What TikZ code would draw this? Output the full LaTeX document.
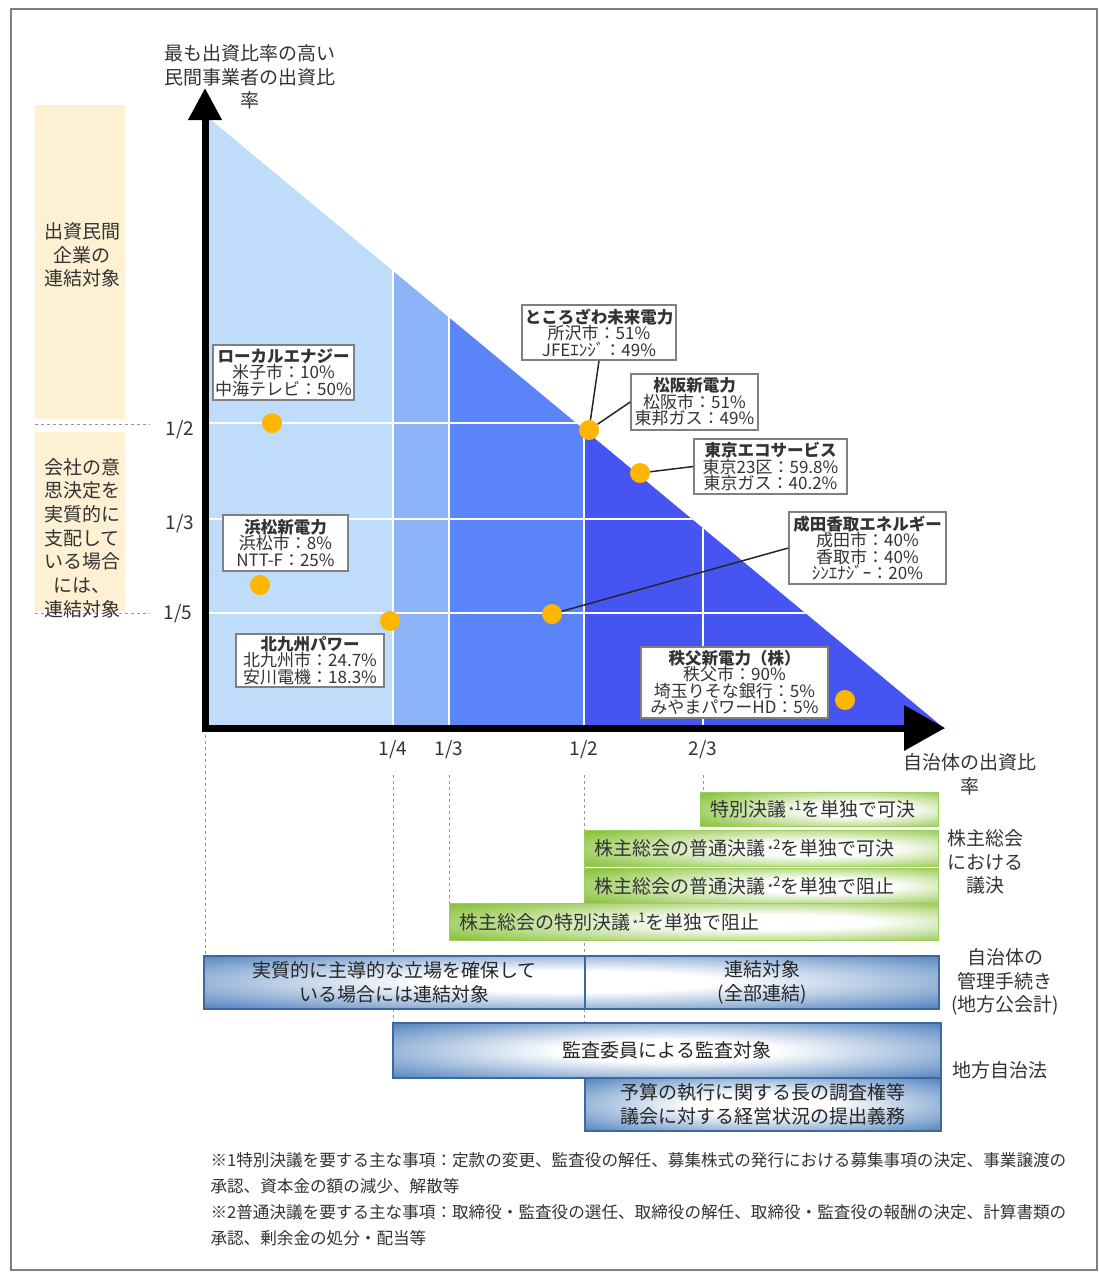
\documentclass[tikz,border=0pt]{standalone}
\usepackage{fontspec}
\setmainfont{Noto Sans CJK JP}
\usetikzlibrary{arrows.meta}

\definecolor{bandA}{HTML}{BFDDFB}
\definecolor{bandB}{HTML}{8DB4F9}
\definecolor{bandC}{HTML}{5A84F8}
\definecolor{bandD}{HTML}{4655F2}
\definecolor{beige}{HTML}{FDF0D3}
\definecolor{dotorange}{HTML}{FFB600}
\definecolor{boxgray}{HTML}{808080}
\definecolor{inkgray}{HTML}{333333}
\definecolor{barGreen}{HTML}{8CC43F}
\definecolor{barBlue}{HTML}{4F81BD}
\definecolor{barBlueDark}{HTML}{3D6A9E}
\definecolor{framegray}{HTML}{7F7F7F}

\pgfdeclareradialshading{greenglow}{\pgfpoint{10bp}{0bp}}{color(0bp)=(white); color(10bp)=(white);
  color(36bp)=(barGreen); color(60bp)=(barGreen)}
\pgfdeclareradialshading{blueglow}{\pgfpoint{0bp}{0bp}}{color(0bp)=(white); color(10bp)=(white);
  color(36bp)=(barBlue); color(60bp)=(barBlue)}

\newcommand{\chuki}[1]{{\fontsize{12}{12}\selectfont\,*}\textsuperscript{#1}}
\newcommand{\cname}[1]{\textbf{\fontsize{16.5}{16.5}\selectfont #1}}

\tikzset{company/.style = {draw=boxgray, line width=1.5pt, fill=white, align=center,
                           inner sep=1pt, text=inkgray, font=\fontsize{17}{16.5}\selectfont},
         orangedot/.style = {circle, fill=dotorange, minimum size=20pt, inner sep=0pt},
         leader/.style = {line width=1.5pt, draw=black!85},
         gridline/.style = {white, line width=1.5pt},
         guide/.style = {framegray!80, dashed, line width=1pt},
         axis/.style = {line width=7pt, black},
         sidelabel/.style = {align=center, text=inkgray, font=\fontsize{19}{23.7}\selectfont},
         ticklabel/.style = {text=inkgray, font=\fontsize{19}{19}\selectfont},
         greenbar/.style = {shading=greenglow, draw=barGreen!85!white, line width=1pt,
                            anchor=north west, align=left, inner xsep=10pt, inner ysep=0pt,
                            text=inkgray, font=\fontsize{19}{22}\selectfont},
         bluebar/.style = {draw=barBlueDark, line width=2pt, anchor=north west, align=center,
                           inner sep=0pt, text=black!85, font=\fontsize{19}{24}\selectfont},
         footnote/.style = {anchor=west, text=inkgray, font=\fontsize{16.6}{16.6}\selectfont}}

\begin{document}
\begin{tikzpicture}[x=1pt, y=-1pt]
    \useasboundingbox (0,0) rectangle (1099,1272);
    \draw [framegray, line width=1.2pt] (11,9) rectangle (1097,1270);

    % left side notes
    \fill [beige] (35,105) rectangle (125,419);
    \fill [beige] (35,432) rectangle (125,611);
    \draw [guide] (35,424) -- (150,424);
    \draw [guide] (35,613) -- (150,613);
    \node [sidelabel] (kigyo) at (82,255) {出資民間\\企業の\\連結対象};
    \node [sidelabel] (shihai) at (82,538) {会社の意\\思決定を\\実質的に\\支配して\\いる場合\\には、\\連結対象};

    % triangle bands
    \begin{scope}
      \clip (205,115) -- (945,729) -- (205,729) -- cycle;
      \fill [bandA] (205,100) rectangle (393,729);
      \fill [bandB] (393,100) rectangle (449,729);
      \fill [bandC] (449,100) rectangle (584,729);
      \fill [bandD] (584,100) rectangle (950,729);
      \foreach \y in {423,519,613}
        \draw [gridline] (205,\y) -- (950,\y);
      \foreach \x in {393,449,584,703}
        \draw [gridline] (\x,100) -- (\x,729);
    \end{scope}

    \draw [axis, -{Triangle[length=32pt,width=32pt]}] (205,731.5) -- (205,88);
    \draw [axis, -{Triangle[length=41pt,width=44pt]}] (201.5,728) -- (945,728);

    \node [sidelabel] (ylabel) at (250,77) {最も出資比率の高い\\民間事業者の出資比\\率};
    \node [sidelabel] (xlabel) at (970,774) {自治体の出資比\\率};

    \node [ticklabel] (y12) at (180,430) {1/2};
    \node [ticklabel] (y13) at (180,524) {1/3};
    \node [ticklabel] (y15) at (178,614) {1/5};
    \node [ticklabel] (x14) at (393,750) {1/4};
    \node [ticklabel] (x13) at (449,750) {1/3};
    \node [ticklabel] (x12) at (584,750) {1/2};
    \node [ticklabel] (x23) at (703,750) {2/3};

    % companies
    \node [company, minimum width=141, minimum height=55] (local) at (283.5,372.5)
      {\cname{ローカルエナジー}\\米子市：10\%\\中海テレビ：50\%};
    \node [company, minimum width=125, minimum height=56] (hamamatsu) at (285.5,543)
      {\cname{浜松新電力}\\浜松市：8\%\\NTT-F：25\%};
    \node [company, minimum width=148, minimum height=53] (kitakyushu) at (310,660.5)
      {\cname{北九州パワー}\\北九州市：24.7\%\\安川電機：18.3\%};
    \node [company, minimum width=154, minimum height=55] (tokorozawa) at (599,332.5)
      {\cname{ところざわ未来電力}\\所沢市：51\%\\JFEｴﾝｼﾞ：49\%};
    \node [company, minimum width=127, minimum height=56] (matsusaka) at (694.5,402)
      {\cname{松阪新電力}\\松阪市：51\%\\東邦ガス：49\%};
    \node [company, minimum width=153, minimum height=55] (tokyoeco) at (770.5,466.5)
      {\cname{東京エコサービス}\\東京23区：59.8\%\\東京ガス：40.2\%};
    \node [company, minimum width=157, minimum height=72] (narita) at (867.5,548)
      {\cname{成田香取エネルギー}\\成田市：40\%\\香取市：40\%\\ｼﾝｴﾅｼﾞｰ：20\%};
    \node [company, minimum width=187, minimum height=71] (chichibu) at (734.5,682.5)
      {\cname{秩父新電力（株）}\\秩父市：90\%\\埼玉りそな銀行：5\%\\みやまパワーHD：5\%};

    \node [orangedot] (dlocal) at (272,423) {};
    \node [orangedot] (dhama) at (260,585) {};
    \node [orangedot] (dkita) at (390,621) {};
    \node [orangedot] (dhalf) at (589,430) {};
    \node [orangedot] (dtokyo) at (640,473) {};
    \node [orangedot] (dnarita) at (552,614) {};
    \node [orangedot] (dchichibu) at (845,700) {};

    \draw [leader] (tokorozawa.south) -- (dhalf);
    \draw [leader] (matsusaka.west) -- (dhalf);
    \draw [leader] (tokyoeco.west) -- (dtokyo);
    \draw [leader] (narita.west) -- (dnarita);

    % guides down to the bars
    \draw [guide] (205,735) -- (205,955);
    \draw [guide] (393,775) -- (393,1022);
    \draw [guide] (449,775) -- (449,903);
    \draw [guide] (584,775) -- (584,1077);
    \draw [guide] (703,775) -- (703,792);

    % shareholders meeting
    \node [greenbar, text width=218, minimum height=34] (kaketsuS) at (700,792)
      {特別決議\chuki{1}を単独で可決};
    \node [greenbar, text width=334, minimum height=36] (kaketsuF) at (584,830)
      {株主総会の普通決議\chuki{2}を単独で可決};
    \node [greenbar, text width=334, minimum height=35] (soshiF) at (584,868)
      {株主総会の普通決議\chuki{2}を単独で阻止};
    \node [greenbar, text width=469, minimum height=37] (soshiS) at (449,903)
      {株主総会の特別決議\chuki{1}を単独で阻止};
    \node [sidelabel] (giketsu) at (985,862) {株主総会\\における\\議決};

    % municipal procedures
    \shade [shading=blueglow] (203,955) rectangle (938,1008);
    \node [bluebar, minimum width=381, minimum height=53] (renketsuA) at (203,955)
      {実質的に主導的な立場を確保して\\いる場合には連結対象};
    \node [bluebar, minimum width=354, minimum height=53] (renketsuB) at (584,955)
      {連結対象\\(全部連結)};
    \node [sidelabel] (kanri) at (1005,982) {自治体の\\管理手続き\\(地方公会計)};

    \node [bluebar, shading=blueglow, minimum width=548, minimum height=55] (kansa) at (392,1022)
      {監査委員による監査対象};
    \node [bluebar, shading=blueglow, minimum width=356, minimum height=53] (chosa) at (584,1077)
      {予算の執行に関する長の調査権等\\議会に対する経営状況の提出義務};
    \node [sidelabel] (jichiho) at (1000,1070) {地方自治法};

    % notes
    \node [footnote] (note1a) at (207,1160) {※1特別決議を要する主な事項：定款の変更、監査役の解任、募集株式の発行における募集事項の決定、事業譲渡の};
    \node [footnote] (note1b) at (207,1186) {承認、資本金の額の減少、解散等};
    \node [footnote] (note2a) at (207,1212) {※2普通決議を要する主な事項：取締役・監査役の選任、取締役の解任、取締役・監査役の報酬の決定、計算書類の};
    \node [footnote] (note2b) at (207,1238) {承認、剰余金の処分・配当等};
\end{tikzpicture}
\end{document}
